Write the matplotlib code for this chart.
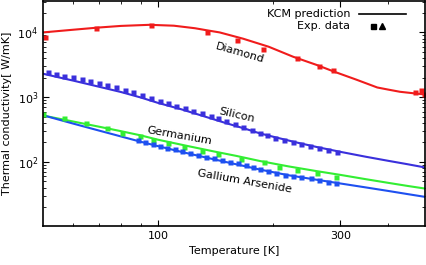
import numpy as np
import matplotlib
matplotlib.use('Agg')
import matplotlib.pyplot as plt
from matplotlib.ticker import FixedLocator, NullFormatter, FixedFormatter

# KCM prediction curves
dia_line_T = [50, 60, 70, 80, 95, 110, 125, 134, 145, 167, 195, 226, 260, 290, 330, 375, 400, 430, 465, 500]
dia_line_k = [1.0e4, 1.1e4, 1.19e4, 1.26e4, 1.31e4, 1.27e4, 1.16e4, 1.08e4, 1.0e4, 8.0e3, 6.0e3, 4.2e3,
              3.15e3, 2.46e3, 1.87e3, 1.41e3, 1.31e3, 1.21e3, 1.15e3, 1.1e3]
si_line_T = [50, 55, 60, 70, 80, 90, 100, 115, 130, 150, 170, 185, 200, 230, 260, 300, 350, 400, 450, 500]
si_line_k = [2300, 2020, 1800, 1450, 1200, 990, 815, 650, 520, 400, 322, 275, 245, 200, 170, 143, 120, 104, 92, 82]
ge_line_T = [50, 60, 70, 80, 90, 100, 120, 140, 160, 185, 220, 260, 300, 350, 400, 450, 500]
ge_line_k = [520, 420, 350, 298, 257, 220, 175, 145, 124, 103, 85, 72, 63, 54, 47.5, 42.5, 38.7]
gaas_line_T = [50, 60, 70, 80, 90, 100, 115, 130, 150, 170, 185, 220, 260, 300, 350, 400, 450, 500]
gaas_line_k = [525, 390, 305, 247, 205, 175, 143, 121, 100, 85, 76, 62, 53, 46.4, 40.3, 35.6, 31.8, 28.8]

# experimental data
dia_exp_T = [50.7, 69, 95.8, 134, 160.6, 188, 231, 264, 288, 470, 488, 497]
dia_exp_k = [8.4e3, 1.15e4, 1.3e4, 1.0e4, 7.5e3, 5.5e3, 4.0e3, 3.0e3, 2.6e3, 1.19e3, 1.3e3, 1.1e3]
si_exp_T = [51.4, 54.1, 56.9, 59.8, 63.2, 66.5, 70, 73.6, 77.8, 81.8, 86, 90.8, 95.7, 101, 106.4, 111.8,
            117.5, 123.6, 130, 137.3, 143.7, 151, 159, 167, 176, 185, 193, 203, 214, 225, 237, 250, 264, 278, 294]
si_exp_k = [2410, 2265, 2133, 2015, 1878, 1767, 1645, 1532, 1412, 1282, 1182, 1086, 960, 875, 799, 726,
            669, 608, 560, 508, 469, 425, 383, 348, 312, 278, 259, 235, 216, 204, 188, 175, 161, 152, 143]
ge_exp_T = [49.9, 56.6, 64.9, 73.6, 80.5, 89.5, 97.1, 106.3, 117, 130, 143.7, 165, 189, 207, 231, 260, 293]
ge_exp_k = [546, 469, 393, 328, 278, 250, 216, 195, 172, 148, 130, 109, 98, 84, 74.5, 66.2, 58.7]
gaas_exp_T = [88.6, 92.3, 97, 101, 105.8, 110.6, 115.9, 121.1, 127.3, 133.4, 140.3, 147.2, 154.3, 162.2,
              169.9, 177.2, 185, 194, 204, 215, 226, 237, 252, 264, 278, 293]
gaas_exp_k = [218, 203, 186, 176, 166, 156, 146, 138, 129, 121, 114, 107, 101, 95,
              89, 84, 76.4, 72.6, 67.6, 63.8, 60.8, 58.6, 55.4, 52.1, 49.1, 46.4]

colors = {'dia': '#f01c1c', 'si': '#3a30dc', 'ge': '#33ee33', 'gaas': '#1e50f0'}

fig = plt.figure(figsize=(4.27, 2.65), dpi=100)
ax = fig.add_axes([0.1007, 0.147, 0.8946, 0.849])

ax.plot(dia_line_T, dia_line_k, color=colors['dia'], lw=1.5)
ax.plot(si_line_T, si_line_k, color=colors['si'], lw=1.5)
ax.plot(ge_line_T, ge_line_k, color=colors['ge'], lw=1.5)
ax.plot(gaas_line_T, gaas_line_k, color=colors['gaas'], lw=1.5)

ms = 3.6
ax.plot(dia_exp_T, dia_exp_k, 's', color=colors['dia'], ms=ms, mec='none')
ax.plot(si_exp_T, si_exp_k, 's', color=colors['si'], ms=ms, mec='none')
ax.plot(ge_exp_T, ge_exp_k, 's', color=colors['ge'], ms=ms, mec='none')
ax.plot(gaas_exp_T, gaas_exp_k, 's', color=colors['gaas'], ms=ms, mec='none')

ax.set_xscale('log')
ax.set_yscale('log')
ax.set_xlim(50, 500)
ax.set_ylim(10.2, 3.05e4)

ax.xaxis.set_major_locator(FixedLocator([100, 300]))
ax.xaxis.set_major_formatter(FixedFormatter(['100', '300']))
ax.xaxis.set_minor_locator(FixedLocator([60, 70, 80, 90, 200, 400]))
ax.xaxis.set_minor_formatter(NullFormatter())

ax.tick_params(which='both', direction='in', top=True, right=True, labelsize=8)
ax.tick_params(which='major', length=4, width=0.8)
ax.tick_params(which='minor', length=2.5, width=0.6)
for s in ax.spines.values():
    s.set_linewidth(1.2)

ax.set_xlabel('Temperature [K]', fontsize=8)
ax.set_ylabel('Thermal conductivity[ W/mK]', fontsize=8)

# curve labels
ax.text(164, 4.8e3, 'Diamond', fontsize=8, rotation=-16, ha='center', va='center')
ax.text(161, 527, 'Silicon', fontsize=8, rotation=-13, ha='center', va='center')
ax.text(114, 250, 'Germanium', fontsize=8, rotation=-10, ha='center', va='center')
ax.text(169, 50.4, 'Gallium Arsenide', fontsize=8, rotation=-10, ha='center', va='center')

# legend
ax.text(0.804, 0.944, 'KCM prediction', transform=ax.transAxes, fontsize=8, ha='right', va='center')
ax.plot([0.827, 0.950], [0.944, 0.944], transform=ax.transAxes, color='black', lw=1.2)
ax.text(0.804, 0.891, 'Exp. data', transform=ax.transAxes, fontsize=8, ha='right', va='center')
ax.plot([0.864], [0.891], 's', transform=ax.transAxes, color='black', ms=3.6)
ax.plot([0.887], [0.891], '^', transform=ax.transAxes, color='black', ms=4)

fig.savefig('out.png', dpi=100)
